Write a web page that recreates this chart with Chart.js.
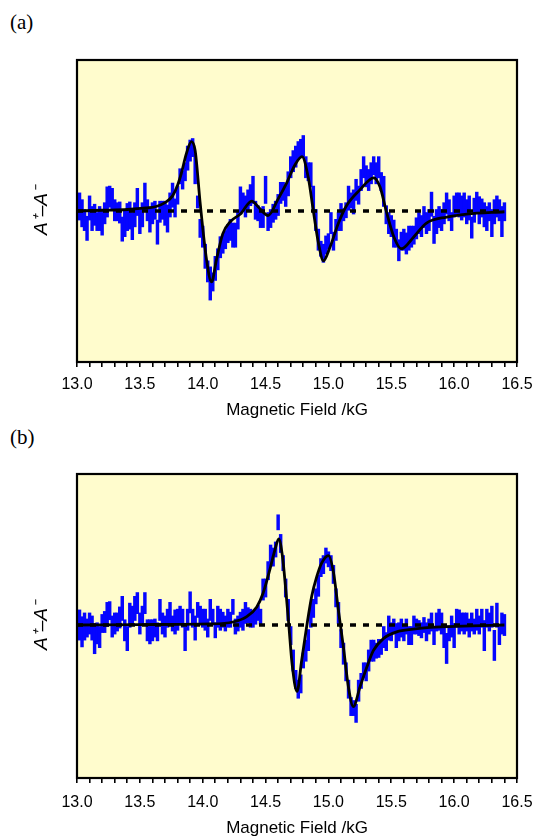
<!DOCTYPE html>
<html><head><meta charset="utf-8">
<script src="https://cdn.jsdelivr.net/npm/chart.js@4.4.1/dist/chart.umd.min.js"></script>
<style>
html,body{margin:0;padding:0;background:#fff;}
#wrap{position:relative;width:538px;height:838px;overflow:hidden;}
canvas{position:absolute;left:0;}
.lab{position:absolute;left:10px;font-family:"Liberation Serif","Times New Roman",serif;font-size:21px;line-height:24px;color:#000;}
</style></head><body>
<div id="wrap">
<div class="lab" style="top:10px">(a)</div>
<div class="lab" style="top:425px">(b)</div>
<canvas id="ca" width="538" height="419" style="top:0px"></canvas>
<canvas id="cb" width="538" height="419" style="top:419px"></canvas>
</div>
<script>
// Magnetic field positions of the measured points (kG)
const fields = [
13.02,13.04,13.06,13.08,13.10,13.12,13.14,13.16,13.18,13.20,
13.22,13.24,13.26,13.28,13.30,13.32,13.34,13.36,13.38,13.40,
13.42,13.44,13.46,13.48,13.50,13.52,13.54,13.56,13.58,13.60,
13.62,13.64,13.66,13.68,13.70,13.72,13.74,13.76,13.78,13.80,
13.82,13.84,13.86,13.88,13.90,13.92,13.94,13.96,13.98,14.00,
14.02,14.04,14.06,14.08,14.10,14.12,14.14,14.16,14.18,14.20,
14.22,14.24,14.26,14.28,14.30,14.32,14.34,14.36,14.38,14.40,
14.42,14.44,14.46,14.48,14.50,14.52,14.54,14.56,14.58,14.60,
14.62,14.64,14.66,14.68,14.70,14.72,14.74,14.76,14.78,14.80,
14.82,14.84,14.86,14.88,14.90,14.92,14.94,14.96,14.98,15.00,
15.02,15.04,15.06,15.08,15.10,15.12,15.14,15.16,15.18,15.20,
15.22,15.24,15.26,15.28,15.30,15.32,15.34,15.36,15.38,15.40,
15.42,15.44,15.46,15.48,15.50,15.52,15.54,15.56,15.58,15.60,
15.62,15.64,15.66,15.68,15.70,15.72,15.74,15.76,15.78,15.80,
15.82,15.84,15.86,15.88,15.90,15.92,15.94,15.96,15.98,16.00,
16.02,16.04,16.06,16.08,16.10,16.12,16.14,16.16,16.18,16.20,
16.22,16.24,16.26,16.28,16.30,16.32,16.34,16.36,16.38,16.40];

// Panel (a): measured A+ - A- and its error
const valuesA = [
0.03,-0.015,-0.06,-0.115,0.02,-0.05,-0.025,-0.07,-0.05,-0.08,
-0.015,0.06,0.095,0.08,0.005,-0.005,-0.01,-0.12,-0.08,-0.04,
-0.03,-0.10,-0.025,0.06,-0.07,-0.025,0.095,0.005,-0.06,-0.015,
0.005,-0.14,-0.005,0.005,-0.015,-0.05,0.04,0.105,0.02,0.105,
0.23,0.205,0.26,0.35,0.40,0.42,0.28,0.06,-0.115,-0.17,
-0.30,-0.40,-0.48,-0.47,-0.38,-0.32,-0.24,-0.22,-0.19,-0.15,
-0.125,-0.16,-0.16,-0.06,0.07,0.06,0.03,0.07,0.105,0.14,
0.005,-0.015,-0.05,-0.04,0.14,-0.07,-0.05,-0.015,0.005,0.04,
0.12,0.13,0.10,0.18,0.29,0.33,0.36,0.40,0.415,0.43,
0.29,0.26,0.24,0.085,-0.06,-0.19,-0.25,-0.28,-0.225,-0.20,
-0.08,-0.20,-0.125,-0.07,-0.04,-0.025,0.005,0.085,0.07,0.06,
0.14,0.105,0.205,0.29,0.23,0.205,0.25,0.30,0.25,0.29,
0.195,0.13,-0.025,-0.08,-0.10,-0.15,-0.18,-0.26,-0.20,-0.19,
-0.215,-0.18,-0.17,-0.16,-0.115,-0.08,-0.10,-0.04,-0.08,-0.06,
0.045,-0.125,-0.07,-0.04,-0.06,-0.015,0.05,0.005,-0.07,0.03,
0.05,0.04,0.02,0.04,-0.005,0.02,-0.11,0.005,0.055,0.005,
0.02,-0.025,-0.05,-0.005,-0.08,-0.005,0.03,0.005,-0.07,-0.005];
const errorsA = [
0.09,0.09,0.07,0.08,0.08,0.08,0.07,0.06,0.08,0.08,
0.07,0.10,0.07,0.07,0.07,0.06,0.07,0.08,0.09,0.09,
0.09,0.09,0.08,0.09,0.08,0.08,0.09,0.07,0.08,0.07,
0.06,0.08,0.07,0.06,0.08,0.09,0.08,0.08,0.06,0.06,
0.05,0.06,0.06,0.08,0.07,0.06,0.10,0.04,0.06,0.07,
0.08,0.07,0.11,0.06,0.08,0.07,0.07,0.06,0.06,0.06,
0.07,0.08,0.08,0.06,0.09,0.06,0.07,0.07,0.07,0.09,
0.06,0.05,0.06,0.07,0.09,0.06,0.06,0.06,0.06,0.07,
0.07,0.06,0.07,0.08,0.07,0.07,0.07,0.06,0.06,0.07,
0.07,0.06,0.08,0.08,0.07,0.07,0.05,0.06,0.06,0.05,
0.07,0.06,0.07,0.06,0.09,0.04,0.05,0.08,0.05,0.08,
0.07,0.06,0.07,0.07,0.07,0.07,0.07,0.06,0.07,0.07,
0.06,0.10,0.06,0.07,0.07,0.09,0.06,0.07,0.06,0.07,
0.07,0.08,0.07,0.06,0.07,0.07,0.07,0.07,0.07,0.07,
0.08,0.09,0.08,0.07,0.07,0.07,0.07,0.07,0.06,0.07,
0.07,0.08,0.08,0.08,0.08,0.08,0.07,0.08,0.07,0.09,
0.06,0.08,0.08,0.06,0.09,0.08,0.07,0.07,0.10,0.06];
// Panel (a): fitted curve
const fitFieldsA = [13.00,13.20,13.40,13.55,13.63,13.70,13.76,13.80,13.83,13.87,13.91,13.94,13.98,14.03,14.07,14.11,14.16,14.22,14.30,14.39,14.45,14.52,14.60,14.67,14.73,14.79,14.84,14.88,14.92,14.96,15.01,15.08,15.14,15.25,15.36,15.41,15.46,15.52,15.58,15.68,15.78,15.94,16.10,16.40];
const fitA = [0,0.005,0.01,0.02,0.03,0.055,0.10,0.17,0.25,0.38,0.46,0.40,0.05,-0.32,-0.47,-0.32,-0.15,-0.07,-0.02,0.066,0.02,-0.03,0.08,0.19,0.30,0.36,0.22,0,-0.21,-0.33,-0.245,-0.08,0.03,0.14,0.22,0.16,0,-0.17,-0.25,-0.17,-0.08,-0.04,-0.02,-0.005];

// Panel (b): measured A+ - A- and its error
const valuesB = [
0,-0.045,-0.01,-0.02,0.01,-0.02,-0.09,-0.055,-0.08,0.01,
0.02,0.07,0.095,-0.01,0.01,0.02,0.05,0.11,-0.035,-0.09,
0.065,0.065,0.11,0.145,0.01,0.065,0.145,-0.035,-0.045,-0.035,
-0.02,-0.045,0.10,0.01,-0.01,0.045,0.08,0.01,0.02,0.035,
0.065,0.045,-0.09,0.035,0.15,0.045,-0.02,0.10,0.065,0.045,
0.035,-0.02,0.10,0.055,-0.035,0.055,0.035,0.035,0.01,0.045,
0.035,0.12,-0.01,0.01,0.035,0.035,0.08,0.065,0.045,0.035,
0.055,0.08,0.055,0.235,0.245,0.36,0.46,0.45,0.50,0.68,
0.54,0.41,0.245,0.10,-0.07,-0.235,-0.36,-0.425,-0.39,-0.235,
-0.17,-0.10,0.065,0.11,0.19,0.26,0.38,0.40,0.46,0.435,
0.41,0.335,0.18,0.08,-0.09,-0.19,-0.31,-0.425,-0.54,-0.55,
-0.585,-0.435,-0.37,-0.30,-0.31,-0.235,-0.17,-0.17,-0.17,-0.155,
-0.145,-0.08,-0.11,-0.02,-0.045,-0.01,-0.07,-0.045,-0.02,-0.055,
-0.01,-0.07,-0.07,0,-0.01,-0.02,-0.035,0,-0.045,-0.01,
0.02,-0.07,0.02,0.035,0.01,-0.08,-0.155,-0.055,-0.01,-0.07,
0.045,0.02,0.02,0.01,0.02,-0.02,0.02,-0.01,0.035,0,
0.045,-0.07,0.045,0.02,0.055,-0.135,0.065,-0.07,0.01,0];
const errorsB = [
0.10,0.10,0.09,0.06,0.07,0.08,0.10,0.07,0.07,0.06,
0.07,0.08,0.06,0.07,0.07,0.06,0.07,0.08,0.07,0.08,
0.08,0.06,0.08,0.07,0.07,0.06,0.07,0.07,0.08,0.07,
0.06,0.06,0.07,0.07,0.07,0.06,0.07,0.05,0.08,0.07,
0.06,0.06,0.08,0.07,0.07,0.06,0.08,0.05,0.06,0.06,
0.07,0.06,0.07,0.05,0.05,0.07,0.07,0.05,0.05,0.06,
0.05,0.05,0.05,0.05,0.05,0.07,0.07,0.05,0.06,0.05,
0.05,0.05,0.05,0.07,0.06,0.06,0.07,0.06,0.05,0.05,
0.06,0.05,0.06,0.07,0.06,0.07,0.06,0.06,0.06,0.05,
0.07,0.07,0.08,0.06,0.05,0.07,0.06,0.06,0.05,0.05,
0.05,0.06,0.06,0.07,0.06,0.07,0.06,0.06,0.06,0.05,
0.06,0.07,0.05,0.05,0.06,0.07,0.07,0.07,0.05,0.06,
0.05,0.07,0.06,0.08,0.06,0.05,0.08,0.06,0.06,0.05,
0.05,0.06,0.06,0.06,0.05,0.05,0.05,0.05,0.06,0.05,
0.06,0.06,0.06,0.07,0.07,0.07,0.10,0.05,0.07,0.08,
0.06,0.08,0.06,0.07,0.06,0.06,0.06,0.05,0.07,0.06,
0.06,0.10,0.06,0.06,0.07,0.10,0.08,0.06,0.07,0.07];
// Panel (b): fitted curve
const fitFieldsB = [13.00,13.50,14.06,14.24,14.35,14.43,14.48,14.535,14.575,14.605,14.635,14.66,14.685,14.71,14.75,14.787,14.827,14.867,14.907,14.946,15.00,15.04,15.079,15.119,15.159,15.198,15.251,15.305,15.357,15.437,15.543,15.676,15.808,16.07,16.40];
const fitB = [0,0.003,0.007,0.02,0.056,0.12,0.21,0.37,0.50,0.57,0.45,0.24,0,-0.25,-0.44,-0.235,-0.01,0.19,0.32,0.41,0.46,0.35,0.10,-0.145,-0.41,-0.54,-0.41,-0.28,-0.17,-0.09,-0.045,-0.027,-0.016,-0.007,0];

// Zero reference line and axis labels
const zeroFields = [13.0, 16.4];
const xTitle = 'Magnetic Field /kG';
const yTitle = 'A\u207A\u2013A\u207B';

const BG = '#FFFCCD';
const SANS = '"Liberation Sans", Arial, Helvetica, sans-serif';

const framePlugin = {
  id: 'frame',
  beforeDraw(c) {
    const a = c.chartArea, ctx = c.ctx;
    ctx.save(); ctx.fillStyle = BG;
    ctx.fillRect(a.left, a.top, a.right - a.left, a.bottom - a.top);
    ctx.restore();
  },
  afterDraw(c) {
    const a = c.chartArea, ctx = c.ctx;
    ctx.save(); ctx.strokeStyle = '#000'; ctx.lineWidth = 2.2;
    ctx.strokeRect(a.left, a.top, a.right - a.left, a.bottom - a.top);
    ctx.restore();
  }
};

function makeChart(id, vals, errs, fx, fy, g) {
  const bars = fields.map((x, i) => ({x: x, y: [vals[i] - errs[i], vals[i] + errs[i]]}));
  const fit = fx.map((x, i) => ({x: x, y: fy[i]}));
  const zero = zeroFields.map(x => ({x: x, y: 0}));
  return new Chart(document.getElementById(id), {
    type: 'bar',
    data: {datasets: [
      {type: 'line', data: fit, borderColor: '#000', borderWidth: 2.8, pointRadius: 0,
       cubicInterpolationMode: 'monotone', order: 1},
      {type: 'line', data: zero, borderColor: '#000', borderWidth: 3.6, borderDash: [6, 7],
       pointRadius: 0, order: 2},
      {type: 'bar', data: bars, backgroundColor: '#0505FF', borderWidth: 0,
       barThickness: 2.8, grouped: false, order: 3}
    ]},
    options: {
      responsive: false, animation: false, events: [],
      layout: {padding: {top: g.top, right: 21, left: 0, bottom: 0}},
      plugins: {legend: {display: false}, tooltip: {enabled: false}},
      scales: {
        x: {type: 'linear', min: 13, max: 16.5, offset: false,
          afterFit(s) { s.height = g.xh; s.paddingRight = 0; s.paddingLeft = 0; },
          grid: {display: true, drawOnChartArea: false, drawTicks: true, tickLength: 5,
                 color: '#000', lineWidth: 1.6, offset: false},
          border: {display: false},
          ticks: {stepSize: 0.1, autoSkip: false, maxRotation: 0, minRotation: 0, padding: g.tp,
                  color: '#000', font: {family: SANS, size: 16},
                  callback: v => Math.abs(v * 2 - Math.round(v * 2)) < 1e-6 ? v.toFixed(1) : ''},
          title: {display: true, text: xTitle, color: '#000',
                  font: {family: SANS, size: 17, lineHeight: 1},
                  padding: {top: 0, bottom: g.tb}}
        },
        y: {type: 'linear', min: g.ymin, max: g.ymax,
          afterFit(s) { s.width = 77; s.paddingTop = 0; s.paddingBottom = 0; },
          grid: {display: false, drawTicks: false},
          border: {display: false},
          ticks: {display: false},
          title: {display: true, text: yTitle, color: '#000',
                  font: {family: SANS, size: 19, style: 'italic', lineHeight: 1},
                  padding: {top: 32, bottom: 0}}
        }
      }
    },
    plugins: [framePlugin]
  });
}

makeChart('ca', valuesA, errorsA, fitFieldsA, fitA, {top: 60, xh: 57, tp: 8, tb: 0.5, ymin: -1, ymax: 1});
makeChart('cb', valuesB, errorsB, fitFieldsB, fitB, {top: 55, xh: 60, tp: 10, tb: 1.5, ymin: -1.013, ymax: 1});
</script>
</body></html>
